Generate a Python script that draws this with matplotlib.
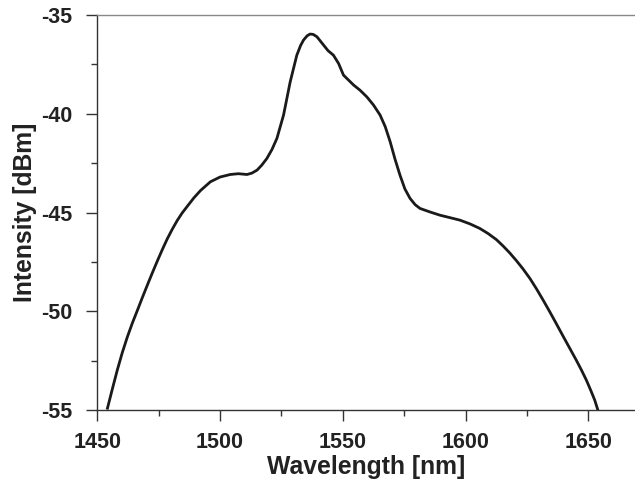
import matplotlib.pyplot as plt
from matplotlib.ticker import MultipleLocator

# spectrum
wavelength = [1454.2, 1456.2, 1458.2, 1460.2, 1462.3, 1464.3, 1466.4, 1468.4,
              1470.4, 1472.4, 1474.5, 1476.5, 1478.5, 1480.5, 1482.6, 1484.6,
              1486.7, 1489.4, 1492.1, 1496.1, 1500.0, 1504.2, 1507.5, 1511.0,
              1513.0, 1515.1, 1517.0, 1519.1, 1521.2, 1523.2, 1525.9, 1528.6,
              1531.3, 1532.8, 1534.0, 1535.5, 1536.7, 1538.0, 1539.5, 1542.2,
              1544.0, 1546.2, 1548.3, 1550.3, 1554.4, 1557.0, 1559.8, 1562.5,
              1565.2, 1567.3, 1569.3, 1571.3, 1573.3, 1575.3, 1577.4, 1579.5,
              1581.5, 1585.6, 1589.6, 1593.5, 1597.7, 1601.8, 1605.8, 1609.2,
              1612.6, 1615.3, 1618.0, 1620.7, 1623.4, 1626.2, 1628.9, 1631.6,
              1634.3, 1637.0, 1639.7, 1642.4, 1645.1, 1647.2, 1649.2, 1651.0,
              1652.6, 1653.9]
intensity = [-54.9, -53.92, -52.97, -52.1, -51.29, -50.6, -49.94, -49.3,
             -48.68, -48.07, -47.45, -46.88, -46.34, -45.86, -45.4, -45.02,
             -44.68, -44.25, -43.88, -43.44, -43.2, -43.07, -43.03, -43.07,
             -43.0, -42.85, -42.6, -42.26, -41.8, -41.24, -40.06, -38.38,
             -37.03, -36.55, -36.27, -36.05, -35.96, -35.98, -36.1, -36.52,
             -36.8, -37.03, -37.45, -38.04, -38.54, -38.8, -39.14, -39.55,
             -40.06, -40.65, -41.41, -42.3, -43.1, -43.8, -44.28, -44.6,
             -44.79, -44.97, -45.13, -45.25, -45.38, -45.57, -45.8, -46.06,
             -46.37, -46.69, -47.04, -47.43, -47.85, -48.33, -48.86, -49.43,
             -50.02, -50.63, -51.25, -51.86, -52.47, -52.97, -53.48, -54.0,
             -54.49, -55.0]

plt.rcParams["font.family"] = ["Liberation Sans", "DejaVu Sans"]
plt.rcParams["font.weight"] = "bold"
plt.rcParams["axes.unicode_minus"] = False

fig = plt.figure(figsize=(6.35, 4.86), dpi=100)
ax = fig.add_axes([0.153, 0.156, 0.847, 0.813])

ax.plot(wavelength, intensity, color="#1a1a1a", linewidth=2.0)

ax.set_xlim(1450, 1669)
ax.set_ylim(-55, -35)
ax.xaxis.set_major_locator(MultipleLocator(50))
ax.xaxis.set_minor_locator(MultipleLocator(25))
ax.yaxis.set_major_locator(MultipleLocator(5))
ax.yaxis.set_minor_locator(MultipleLocator(2.5))

ax.spines["right"].set_visible(False)
ax.spines["top"].set_color("#888888")
ax.spines["left"].set_color("#333333")
ax.spines["bottom"].set_color("#333333")
for s in ax.spines.values():
    s.set_linewidth(1.0)

ax.tick_params(which="major", direction="out", length=8, width=1,
               colors="#333333", labelsize=15.5, labelcolor="#222222")
ax.tick_params(axis="x", which="major", pad=8)
ax.tick_params(axis="y", which="major", pad=10)
ax.tick_params(which="minor", direction="out", length=4, width=1, colors="#333333")

ax.set_xlabel("Wavelength [nm]", fontsize=17.8, fontweight="bold",
              color="#222222", labelpad=1.5)
ax.set_ylabel("Intensity [dBm]", fontsize=17.8, fontweight="bold",
              color="#222222", labelpad=3)

fig.savefig("out.png", dpi=100)
